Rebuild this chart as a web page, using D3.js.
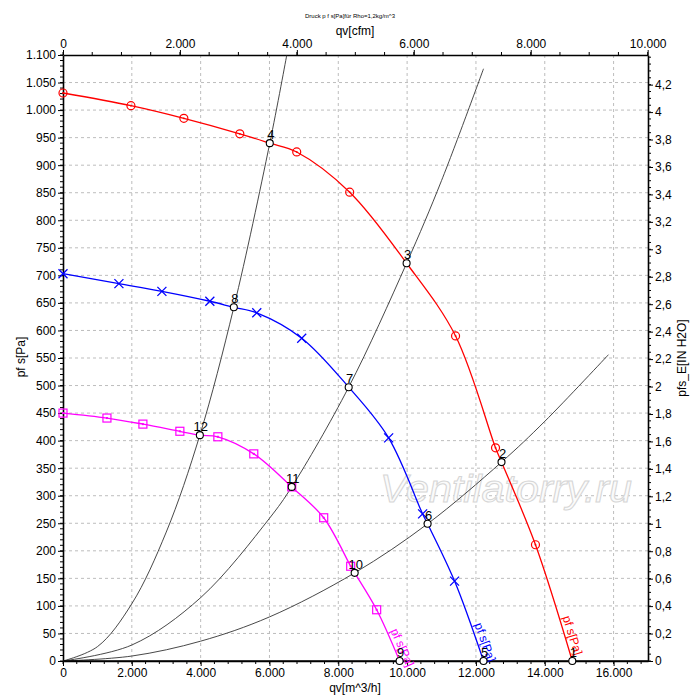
<!DOCTYPE html>
<html>
<head>
<meta charset="utf-8">
<script src="https://cdn.jsdelivr.net/npm/d3@7"></script>
<style>
  body { margin: 0; background: #fff; }
  svg { font-family: "Liberation Sans", Arial, sans-serif; }
</style>
</head>
<body>
<svg id="chart" width="700" height="700"></svg>
<script>
// fan curves: static pressure [Pa] over volume flow [m^3/h]
const redQ  = [0, 1974, 3512, 5138, 6009, 6792, 8331, 9985, 11408, 12569, 12743, 13730, 14800];
const redP  = [1031, 1008, 985, 957, 940, 924, 851, 722, 590, 387, 361, 211, 0];
const redMarks = [0, 1974, 3512, 5138, 6792, 8331, 11408, 12569, 13730];

const blueQ = [0, 1625, 2874, 4267, 4964, 5631, 6937, 8302, 9463, 10450, 10595, 11379, 12220];
const blueP = [703, 685, 671, 653, 642, 632, 586, 497, 405, 267, 249, 145, 0];
const blueMarks = [0, 1625, 2874, 4267, 5631, 6937, 9463, 10450, 11379];

const pinkQ = [0, 1277, 2322, 3396, 3977, 4500, 5544, 6647, 7576, 8360, 8476, 9115, 9782];
const pinkP = [450, 441, 430, 417, 410, 407, 376, 316, 260, 172, 160, 93, 0];
const pinkMarks = [0, 1277, 2322, 3396, 4500, 5544, 6647, 7576, 8360, 9115];

// system curves (black)
const sys1Q = [0, 1000, 2000, 3000, 3977, 4964, 6009, 6500];
const sys1P = [0, 26, 104, 234, 410, 642, 940, 1099];
const sys2Q = [0, 2000, 4000, 6000, 6647, 8302, 9985, 11000, 12220];
const sys2P = [0, 29, 115, 259, 316, 497, 722, 872, 1075];
const sys3Q = [0, 2000, 4000, 6000, 8476, 10595, 12743, 14000, 15850];
const sys3P = [0, 9, 36, 80, 160, 249, 361, 435, 556];

// operating points 1..12
const opNames = ["1", "2", "3", "4", "5", "6", "7", "8", "9", "10", "11", "12"];
const opQ = [14800, 12743, 9985, 6009, 12220, 10595, 8302, 4964, 9782, 8476, 6647, 3977];
const opP = [0, 361, 722, 940, 0, 249, 497, 642, 0, 160, 316, 410];

const curveLabel = "pf s[Pa]";
const titleText = "Druck p f s[Pa]für Rho=1,2kg/m^3";

const svg = d3.select("#chart");
const pLeft = 63, pRight = 648, pTop = 55, pBottom = 661;

const x = d3.scaleLinear().domain([0, 17000]).range([pLeft, pRight]);
const xCfm = d3.scaleLinear().domain([0, 17000 / 1.69901]).range([pLeft, pRight]);
const y = d3.scaleLinear().domain([0, 1100]).range([pBottom, pTop]);
const yIn = d3.scaleLinear().domain([0, 1100 / 249.089]).range([pBottom, pTop]);

const dotFmt = v => d3.format(",")(v).replace(/,/g, ".");
const commaFmt = v => String(+v.toFixed(1)).replace(".", ",");

// grid
const grid = svg.append("g").attr("stroke", "#bdbdbd").attr("stroke-dasharray", "3,3").attr("stroke-width", 1);
d3.range(50, 1100, 50).forEach(v => {
  grid.append("line").attr("x1", pLeft).attr("x2", pRight).attr("y1", y(v)).attr("y2", y(v));
});
d3.range(2000, 17000, 2000).forEach(v => {
  grid.append("line").attr("y1", pTop).attr("y2", pBottom).attr("x1", x(v)).attr("x2", x(v));
});

// watermark
svg.append("text")
  .attr("x", 380).attr("y", 502)
  .attr("textLength", 252)
  .attr("lengthAdjust", "spacingAndGlyphs")
  .attr("font-size", 38)
  .attr("font-style", "italic")
  .attr("fill", "#fbfbfb")
  .attr("stroke", "#d6d6d6")
  .attr("stroke-width", 1)
  .text("Ventilatorry.ru");

// axes
const axisStyle = g => {
  g.selectAll("text").attr("font-size", 12).attr("fill", "#000").attr("font-family", "Liberation Sans, Arial, sans-serif");
  g.selectAll("path.domain").attr("stroke", "#000").attr("stroke-width", 1.6);
};

function minorTicks(g, positions, orient, len) {
  positions.forEach(p => {
    if (orient === "left") g.append("line").attr("x1", pLeft - len).attr("x2", pLeft).attr("y1", p).attr("y2", p);
    if (orient === "right") g.append("line").attr("x1", pRight).attr("x2", pRight + len).attr("y1", p).attr("y2", p);
    if (orient === "top") g.append("line").attr("y1", pTop - len).attr("y2", pTop).attr("x1", p).attr("x2", p);
    if (orient === "bottom") g.append("line").attr("y1", pBottom).attr("y2", pBottom + len).attr("x1", p).attr("x2", p);
  });
}
const minors = svg.append("g").attr("stroke", "#000").attr("stroke-width", 1);
minorTicks(minors, d3.range(0, 1101, 10).map(y), "left", 3);
minorTicks(minors, d3.range(0, 4.41, 0.05).map(yIn), "right", 3);
minorTicks(minors, d3.range(0, 10001, 500).map(xCfm), "top", 3);
minorTicks(minors, d3.range(0, 17001, 400).map(x), "bottom", 3);

svg.append("g").attr("transform", `translate(${pLeft},0)`)
  .call(d3.axisLeft(y).tickValues(d3.range(0, 1101, 50)).tickFormat(dotFmt).tickSize(5).tickSizeOuter(0).tickPadding(2))
  .call(axisStyle);
svg.append("g").attr("transform", `translate(${pRight},0)`)
  .call(d3.axisRight(yIn).tickValues(d3.range(0, 22).map(i => i * 0.2)).tickFormat(commaFmt).tickSize(5).tickSizeOuter(0).tickPadding(2))
  .call(axisStyle);
svg.append("g").attr("transform", `translate(0,${pBottom})`)
  .call(d3.axisBottom(x).tickValues(d3.range(0, 17000, 2000)).tickFormat(dotFmt).tickSize(5).tickSizeOuter(0).tickPadding(2))
  .call(axisStyle);
svg.append("g").attr("transform", `translate(0,${pTop})`)
  .call(d3.axisTop(xCfm).tickValues(d3.range(0, 10001, 2000)).tickFormat(dotFmt).tickSize(5).tickSizeOuter(0).tickPadding(2))
  .call(axisStyle);

// titles
svg.append("text").attr("x", 350).attr("y", 18).attr("text-anchor", "middle")
  .attr("font-size", 6).text(titleText);
svg.append("text").attr("x", 355).attr("y", 35).attr("text-anchor", "middle")
  .attr("font-size", 12).text("qv[cfm]");
svg.append("text").attr("x", 355).attr("y", 692).attr("text-anchor", "middle")
  .attr("font-size", 12).text("qv[m^3/h]");
svg.append("text").attr("transform", "translate(25,357) rotate(-90)").attr("text-anchor", "middle")
  .attr("font-size", 12).text("pf s[Pa]");
svg.append("text").attr("transform", "translate(686,358) rotate(-90)").attr("text-anchor", "middle")
  .attr("font-size", 12).text("pfs_E[IN H2O]");

const zip = (qs, ps) => qs.map((q, i) => [q, ps[i]]);
const smooth = d3.line().x(d => x(d[0])).y(d => y(d[1])).curve(d3.curveCatmullRom.alpha(0.5));

// system curves
[[sys1Q, sys1P], [sys2Q, sys2P], [sys3Q, sys3P]].forEach(([qs, ps]) => {
  svg.append("path").attr("d", smooth(zip(qs, ps)))
    .attr("fill", "none").attr("stroke", "#333").attr("stroke-width", 0.9);
});

// bottom axis redrawn on top of the curves near zero
svg.append("line").attr("x1", pLeft).attr("x2", pRight).attr("y1", pBottom).attr("y2", pBottom)
  .attr("stroke", "#000").attr("stroke-width", 1.6);

const fanCurves = [
  { qs: redQ, ps: redP, marks: redMarks, color: "#ff0000", marker: "circle" },
  { qs: blueQ, ps: blueP, marks: blueMarks, color: "#0000ff", marker: "cross" },
  { qs: pinkQ, ps: pinkP, marks: pinkMarks, color: "#ff00ff", marker: "square" }
];

fanCurves.forEach(c => {
  const pts = zip(c.qs, c.ps);
  svg.append("path").attr("d", smooth(pts))
    .attr("fill", "none").attr("stroke", c.color).attr("stroke-width", 1.3);

  const g = svg.append("g").attr("stroke", c.color).attr("fill", "none");
  c.marks.forEach(q => {
    const p = c.ps[c.qs.indexOf(q)];
    const cx = x(q), cy = y(p);
    if (c.marker === "circle") {
      g.append("circle").attr("cx", cx).attr("cy", cy).attr("r", 4).attr("stroke-width", 1.2);
      g.append("circle").attr("cx", cx).attr("cy", cy).attr("r", 0.9).attr("fill", c.color).attr("stroke", "none");
    } else if (c.marker === "square") {
      g.append("rect").attr("x", cx - 4).attr("y", cy - 4).attr("width", 8).attr("height", 8).attr("stroke-width", 1.2);
      g.append("rect").attr("x", cx - 1).attr("y", cy - 1).attr("width", 2).attr("height", 2).attr("fill", c.color).attr("stroke", "none");
    } else {
      g.append("path").attr("d", `M${cx - 4.5},${cy - 4.5}L${cx + 4.5},${cy + 4.5}M${cx - 4.5},${cy + 4.5}L${cx + 4.5},${cy - 4.5}`)
        .attr("stroke-width", 1.3);
    }
  });

  // label along the last segment, just right of the line
  const n = pts.length;
  const a = pts[n - 2], b = pts[n - 1];
  const ax = x(a[0]), ay = y(a[1]), bx = x(b[0]), by = y(b[1]);
  const ang = Math.atan2(by - ay, bx - ax);
  const t = 0.8;
  const mx = ax + (bx - ax) * t + Math.sin(ang) * 8;
  const my = ay + (by - ay) * t - Math.cos(ang) * 8;
  svg.append("text")
    .attr("transform", `translate(${mx},${my}) rotate(${ang * 180 / Math.PI})`)
    .attr("text-anchor", "middle").attr("dy", "0.35em")
    .attr("font-size", 12).attr("fill", c.color)
    .text(curveLabel);
});

// operating points
opQ.forEach((q, i) => {
  const cx = x(q), cy = y(opP[i]);
  svg.append("circle").attr("cx", cx).attr("cy", cy).attr("r", 3.5)
    .attr("fill", "#fff").attr("stroke", "#000").attr("stroke-width", 1.1);
  svg.append("text").attr("x", cx + 1).attr("y", cy - 4)
    .attr("text-anchor", "middle").attr("font-size", 13).attr("fill", "#000")
    .text(opNames[i]);
});
</script>
</body>
</html>
